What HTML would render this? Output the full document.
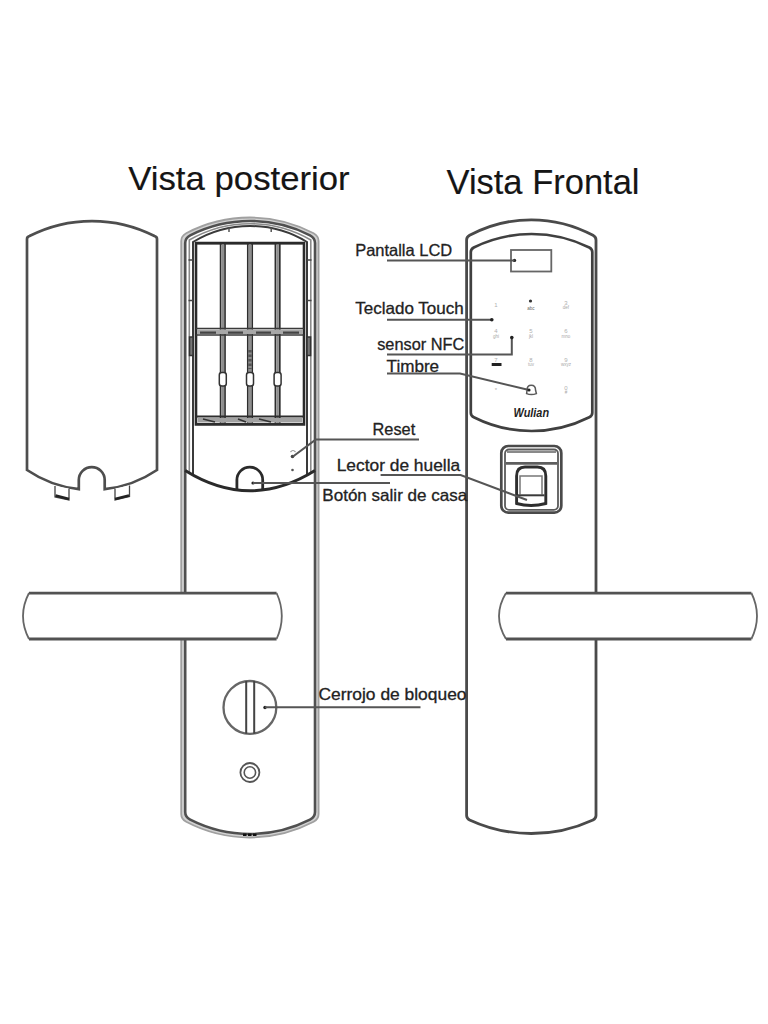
<!DOCTYPE html>
<html><head><meta charset="utf-8">
<style>
html,body{margin:0;padding:0;background:#fff;width:768px;height:1024px;overflow:hidden}
svg{display:block;position:absolute;left:0;top:0}
text{font-family:"Liberation Sans",sans-serif}
</style></head><body>
<svg width="768" height="1024" viewBox="0 0 768 1024">
<rect width="768" height="1024" fill="#fff"/>
<g style="fill:#151515;stroke:#151515;stroke-width:0.15">
<text x="128.2" y="189.6" font-size="33.5" textLength="221.5" lengthAdjust="spacingAndGlyphs">Vista posterior</text>
<text x="446.5" y="194.4" font-size="34.2" textLength="193" lengthAdjust="spacingAndGlyphs">Vista Frontal</text>
</g>
<path d="M27,470 V239 Q27,236.8 29.5,236 A138,138 0 0 1 154.5,236 Q157,236.8 157,239 V470 A115.6,115.6 0 0 1 104.7,489.2 V480 A12.95,12.95 0 0 0 78.8,480 V489.2 A115.6,115.6 0 0 1 27,470 Z" fill="#fff" stroke="#4e4e4e" stroke-width="2.7"/>
<g stroke="#444" stroke-width="1.3" fill="#fff">
<path d="M55,486 L55,497 L69,500 L69,488.5"/>
<path d="M115,488.5 L115,500 L129.5,496.5 L129.5,485.5"/>
</g>
<path d="M55.5,495.5 L69,499" stroke="#222" stroke-width="2.8"/>
<path d="M115,499 L129,495.5" stroke="#222" stroke-width="2.8"/>
<g fill="none"><path d="M183.2,813 V242 Q183.2,237 188.2,234.27 A134.2,134.2 0 0 1 311.8,234.27 Q316.8,237 316.8,242 V813 Q316.8,818 311.8,820.73 A134.2,134.2 0 0 1 188.2,820.73 Q183.2,818 183.2,813 Z" stroke="#d2d2d2" stroke-width="4"/><path d="M181.2,814 V241 Q181.2,236 186.2,233.23 A136.8,136.8 0 0 1 313.6,233.23 Q318.6,236 318.6,241 V814 Q318.6,819 313.6,821.77 A136.8,136.8 0 0 1 186.2,821.77 Q181.2,819 181.2,814 Z" stroke="#a0a0a0" stroke-width="1.8"/><path d="M185.2,812 V243 Q185.2,238 190.2,235.33 A132.4,132.4 0 0 1 310,235.33 Q315,238 315,243 V812 Q315,817 310,819.67 A132.4,132.4 0 0 1 190.2,819.67 Q185.2,817 185.2,812 Z" stroke="#505050" stroke-width="2.6"/><path d="M189.3,473 V240 A121.4,121.4 0 0 1 310.8,240 V473" stroke="#8a8a8a" stroke-width="1.6"/><path d="M193,475 V242 A109.5,109.5 0 0 1 307,242 V475" stroke="#3a3a3a" stroke-width="2"/><path d="M185.2,470.5 Q250,511 315,470.5" stroke="#2a2a2a" stroke-width="3"/><path d="M196,243 V424.5 H304 V243 Z" stroke="#2a2a2a" stroke-width="2.6"/>
<path d="M196,243.3 H304" stroke="#2a2a2a" stroke-width="2.6"/>
<g stroke="#2e2e2e" stroke-width="1.7">
<path d="M220.6,244 V424 M225,244 V424 M247.8,244 V424 M252.2,244 V424 M275.4,244 V424 M279.8,244 V424"/>
</g>
<g stroke="#8e8e8e" stroke-width="2.6">
<path d="M222.8,245 V423 M250,245 V423 M277.6,245 V423"/>
</g>
<path d="M196,328.5 H304 M196,335 H304" stroke="#3a3a3a" stroke-width="1.7"/>
<path d="M197,331.8 H303" stroke="#a8a8a8" stroke-width="4.4"/>
<path d="M200,332.6 H216 M228,332.6 H243 M256,332.6 H271 M283,332.6 H299" stroke="#444" stroke-width="2.4"/>
<path d="M196,416.5 H304 M196,424 H304" stroke="#2e2e2e" stroke-width="1.9"/>
<path d="M198,420.3 H302" stroke="#a2a2a2" stroke-width="4.6"/>
<path d="M203,419 L215,422 M238,419 L246,422 M259,419 L271,422" stroke="#333" stroke-width="1.6"/>
<g stroke="#333" stroke-width="1.5" fill="#fff">
<rect x="219.3" y="372.5" width="7" height="13.5" rx="2.5"/>
<rect x="246.5" y="372.5" width="7" height="13.5" rx="2.5"/>
<rect x="274.1" y="372.5" width="7" height="13.5" rx="2.5"/>
</g>
<path d="M250,350 V369" stroke="#555" stroke-width="3.5" stroke-dasharray="2.5,2"/>
<path d="M189.5,337 H193 V355.5 H189.5 Z M307,337 H310.6 V355.5 H307 Z" stroke="#333" stroke-width="1.5" fill="#777"/>
<path d="M229,227.5 V232 M271.2,227.5 V232" stroke="#555" stroke-width="1.5"/>
<path d="M188.5,260 H193 M188.5,300.5 H193 M307,260 H311.5 M307,300.5 H311.5" stroke="#444" stroke-width="1.6"/>
<path d="M290.5,452 Q293,449 295.5,452" stroke="#999" stroke-width="1.2"/>
<circle cx="292.5" cy="456.5" r="1.8" fill="#444"/>
<circle cx="292.5" cy="470" r="1.3" fill="#555"/>
<path d="M236.9,489.5 V480 A12.9,12.9 0 0 1 262.7,480 V489.5" stroke="#2a2a2a" stroke-width="2.8"/>
<circle cx="253" cy="483" r="1.6" fill="#222"/>
<path d="M243,834.8 H258" stroke="#111" stroke-width="2.6" stroke-dasharray="3.5,1.5"/>
<circle cx="249.9" cy="707.4" r="26.4" stroke="#666" stroke-width="2.3" fill="#fff"/>
<path d="M246.2,681 V733.8 M254.2,681 V733.8" stroke="#444" stroke-width="2"/>
<circle cx="265" cy="707.5" r="1.7" fill="#222"/>
<circle cx="249.9" cy="772.5" r="9.5" stroke="#555" stroke-width="1.8"/>
<circle cx="249.9" cy="772.5" r="5.7" stroke="#555" stroke-width="1.6"/>
</g>
<path d="M29,593 H276.6 Q287,616 276.6,639 H29 Q17,616 29,593 Z" fill="#fff"/>
<path d="M29,593.2 H276.6 M29,639 H276.6" stroke="#525252" stroke-width="2.8"/>
<path d="M276.6,593 Q287,616 276.6,639 M29,593 Q17,616 29,639" fill="none" stroke="#666" stroke-width="1.8"/>
<!-- front body -->
<g fill="none">
<path d="M466.6,815.5 V240 Q466.6,237 469.6,235.34 A130.3,130.3 0 0 1 593,235.34 Q596,237 596,240 V815.5 Q596,818.5 593,819.93 A147.0,147.0 0 0 1 469.6,819.93 Q466.6,818.5 466.6,815.5 Z" stroke="#4a4a4a" stroke-width="2.8"/>
<path d="M470.8,412.7 V252 Q470.8,249 473.8,247.47 A130.5,130.5 0 0 1 589.3,247.47 Q592.3,249 592.3,252 V412.7 Q592.3,415.7 589.3,417.26 A128.3,128.3 0 0 1 473.8,417.26 Q470.8,415.7 470.8,412.7 Z" stroke="#404040" stroke-width="2.7"/>
<rect x="511" y="250" width="40.3" height="21.5" stroke="#666" stroke-width="1.8"/>
<circle cx="514.5" cy="260.4" r="1.7" fill="#222"/>
<!-- fingerprint module -->
<rect x="501.3" y="446" width="60" height="66.7" rx="7" stroke="#4a4a4a" stroke-width="2.7"/>
<rect x="505" y="449.5" width="53" height="60.3" rx="4" stroke="#5a5a5a" stroke-width="1.8"/>
<path d="M507,452 H556" stroke="#8a8a8a" stroke-width="2"/>
<path d="M506,463.4 H557" stroke="#5e5e5e" stroke-width="2.6"/>
<path d="M516.6,503.5 V476 Q516.6,467 525,467 H537.4 Q545.8,467 545.8,476 V503.5 Q531,507.5 516.6,503.5 Z" stroke="#2e2e2e" stroke-width="2.9"/>
<path d="M520,494.5 V476 H542 V494.5" stroke="#777" stroke-width="1.5"/>
<path d="M518,495.3 H544.5" stroke="#3a3a3a" stroke-width="2"/>
<!-- bell -->
<path d="M531.2,385.3 C534.8,385.3 535.6,388.5 535.6,390.5 L536.4,393.6 Q531.3,395.6 526.6,393.6 L527,390.5 C527,388.5 527.6,385.3 531.2,385.3 Z" stroke="#5a5a5a" stroke-width="1.5"/>
</g>
<!-- keypad glyphs -->
<g font-size="6" text-anchor="middle" style="font-family:'Liberation Sans',sans-serif">
<g style="fill:#b0b0b0">
<text x="496" y="307">1</text><text x="566" y="305">3</text>
<text x="496" y="333">4</text><text x="531" y="333">5</text><text x="566" y="333">6</text>
<text x="496" y="362">7</text><text x="531" y="362">8</text><text x="566" y="362">9</text>
<text x="496" y="392">*</text><text x="566" y="390">0</text>
</g>
<g font-size="4.5" style="fill:#a8a8a8">
<text x="531" y="309.5" style="fill:#666">abc</text><text x="566" y="309">def</text>
<text x="496" y="337.5">ghi</text><text x="531" y="337.5">jkl</text><text x="566" y="337.5">mno</text>
<text x="531" y="366">tuv</text><text x="566" y="366">wxyz</text><text x="566" y="394">#</text>
</g>
</g>
<circle cx="530.5" cy="301" r="1.6" fill="#333"/>
<rect x="491.7" y="363" width="9.8" height="3" fill="#222"/>
<text x="531.3" y="416.9" font-size="12.3" font-weight="bold" font-style="italic" text-anchor="middle" textLength="35.5" lengthAdjust="spacingAndGlyphs" style="fill:#1e1e1e">Wulian</text>
<!-- front handle -->
<path d="M506,593 H751.4 Q762.6,616 751.4,639 H506 Q492,616 506,593 Z" fill="#fff"/>
<path d="M506,593.2 H751.4 M506,639 H751.4" stroke="#525252" stroke-width="2.8"/>
<path d="M751.4,593 Q762.6,616 751.4,639 M506,593 Q492,616 506,639" fill="none" stroke="#666" stroke-width="1.8"/>

<!-- labels -->
<g font-size="16.5" style="fill:#222;stroke:#222;stroke-width:0.3">
<text x="355.2" y="256" textLength="97" lengthAdjust="spacingAndGlyphs">Pantalla LCD</text>
<text x="355.2" y="314.3" textLength="108.5" lengthAdjust="spacingAndGlyphs">Teclado Touch</text>
<text x="377.2" y="349.5" textLength="87" lengthAdjust="spacingAndGlyphs">sensor NFC</text>
<text x="386.6" y="371.8" textLength="52.5" lengthAdjust="spacingAndGlyphs">Timbre</text>
<text x="372.6" y="434.7" textLength="42.6" lengthAdjust="spacingAndGlyphs">Reset</text>
<text x="336.7" y="471.2" textLength="123.5" lengthAdjust="spacingAndGlyphs">Lector de huella</text>
<text x="322.3" y="500.6" textLength="145" lengthAdjust="spacingAndGlyphs">Botón salir de casa</text>
<text x="318.5" y="700" textLength="148" lengthAdjust="spacingAndGlyphs">Cerrojo de bloqueo</text>
</g>
<!-- leader lines -->
<g fill="none" stroke="#555" stroke-width="2">
<path d="M387,260.4 H514.5"/>
<path d="M387,319.8 H491.8"/>
<path d="M387,354.4 H511.8 V337.6"/>
<path d="M387,373.6 H460 L529,390"/>
<path d="M316,439.4 H419 M316,439.4 L293,456.5"/>
<path d="M380.6,475 H460.6 L527,500"/>
<path d="M253,483 H390"/>
<path d="M265,707.3 H420.5"/>
</g>
<circle cx="491.8" cy="319.8" r="1.8" fill="#222"/>
<circle cx="511.8" cy="337.6" r="1.8" fill="#222"/>
<circle cx="529" cy="390" r="1.6" fill="#222"/>
</svg>
</body></html>
